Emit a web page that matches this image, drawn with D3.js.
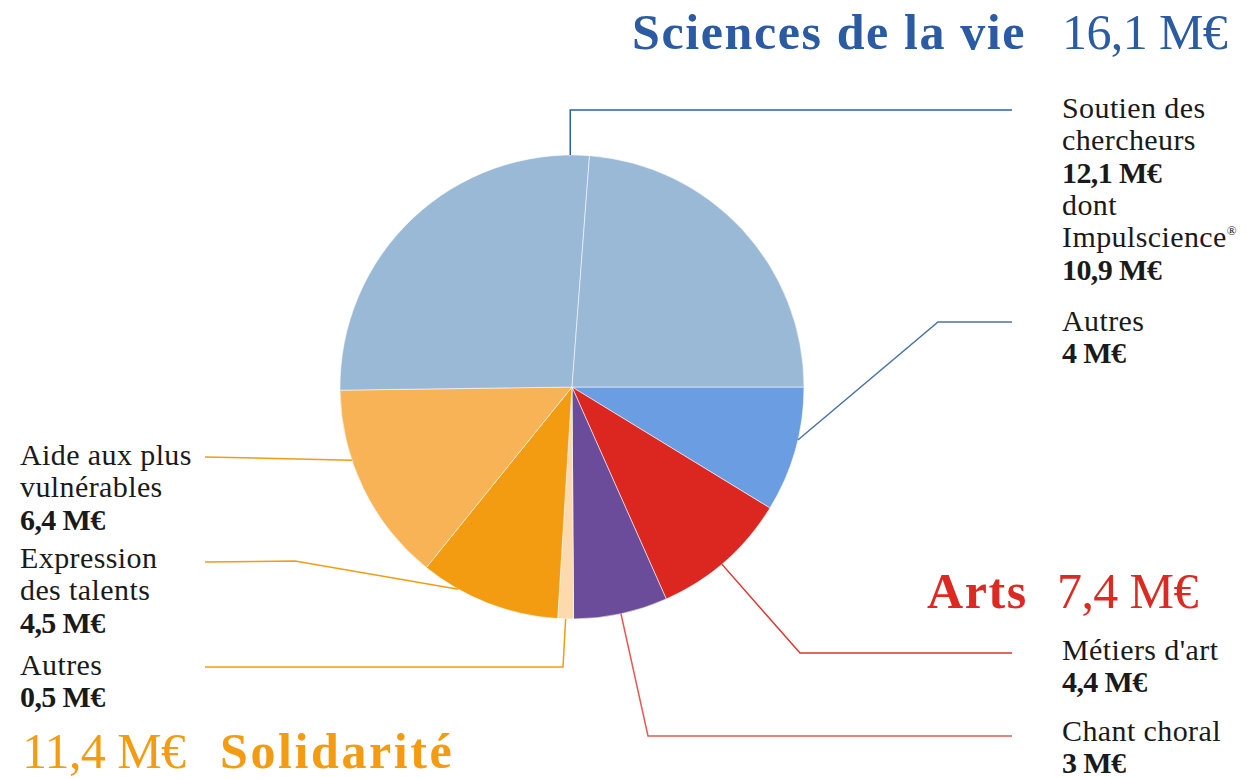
<!DOCTYPE html>
<html>
<head>
<meta charset="utf-8">
<script src="https://cdn.jsdelivr.net/npm/d3@7"></script>
<style>
  body { margin: 0; background: #fff; }
  svg { display: block; }
  text { font-family: "Liberation Serif", "DejaVu Serif", serif; }
</style>
</head>
<body>
<svg></svg>
<script>
// slices, clockwise from 3 o'clock
var slices = ["Autres (sciences)", "Métiers d'art", "Chant choral", "Autres (solidarité)",
              "Expression des talents", "Aide aux plus vulnérables", "Soutien des chercheurs", "dont Impulscience"];
var values = [4, 4.4, 3, 0.5, 4.5, 6.4, 12.1, 10.9];
var colors = ["#6a9de2", "#dc2620", "#6b4c9a", "#fdd9ae", "#f39c12", "#f7b356", "#9ab9d6", "#9ab9d6"];

// label text per slice (last slice shares the label of the one before)
var labelLines = [
  ["Autres", "4 M€"],
  ["Métiers d'art", "4,4 M€"],
  ["Chant choral", "3 M€"],
  ["Autres", "0,5 M€"],
  ["Expression", "des talents", "4,5 M€"],
  ["Aide aux plus", "vulnérables", "6,4 M€"],
  ["Soutien des", "chercheurs", "12,1 M€", "dont", "Impulscience®", "10,9 M€"],
  null
];
var lineColors = ["#4a73ad", "#e0352f", "#e35a55", "#f39c12", "#f39c12", "#f39c12", "#2d5fa9", null];

// group titles
var groups = ["Sciences de la vie", "Arts", "Solidarité"];
var groupTotals = ["16,1 M€", "7,4 M€", "11,4 M€"];
var groupColors = ["#2b5ba3", "#dc2a22", "#f39c12"];

var width = 1247, height = 779;
var cx = 572, cy = 387, radius = 232;

var svg = d3.select("svg").attr("width", width).attr("height", height);

var pie = d3.pie().sort(null).value(d => d)
    .startAngle(Math.PI / 2).endAngle(Math.PI / 2 + 2 * Math.PI);
var arcs = pie(values);
var arc = d3.arc().innerRadius(0).outerRadius(radius);

var g = svg.append("g").attr("transform", "translate(" + cx + "," + cy + ")");

g.selectAll("path")
  .data(arcs)
  .enter().append("path")
  .attr("d", arc)
  .attr("fill", (d, i) => colors[i])
  .attr("stroke", "rgba(255,255,255,0.55)")
  .attr("stroke-width", 1);

// leader lines: where on the slice they leave (fraction of the slice), elbow and end
var leaderAt = [0.42, 0.53, 0.5, 0.5, 0.73, 0.65, 0.95];
var elbows = [[938, 322], [800, 653], [648, 736], [563, 667], [295, 561], [205, 457], [null, 110]];
var ends = [[1012, 322], [1012, 653], [1012, 736], [205, 667], [205, 562], [205, 457], [1012, 110]];
var labelPos = [[1062, 331], [1062, 660], [1062, 741], [20, 675], [20, 568], [20, 465], [1062, 118]];

function edgePoint(d, f) {
  var a = d.startAngle + (d.endAngle - d.startAngle) * f;
  return [cx + radius * Math.sin(a), cy - radius * Math.cos(a)];
}

leaderAt.forEach(function(f, i) {
  var p = edgePoint(arcs[i], f);
  var e = elbows[i];
  var pts = [p, [e[0] == null ? p[0] : e[0], e[1]], ends[i]];
  svg.append("path")
    .attr("d", d3.line()(pts))
    .attr("fill", "none")
    .attr("stroke", lineColors[i])
    .attr("stroke-width", 1.5);
});

// slice labels
labelLines.forEach(function(lines, i) {
  if (!lines) return;
  var t = svg.append("text")
    .attr("font-size", 30)
    .attr("fill", "#1a1a1a");
  lines.forEach(function(s, j) {
    var bold = s.indexOf("M€") >= 0;
    var sp = t.append("tspan")
      .attr("x", labelPos[i][0])
      .attr("y", labelPos[i][1] + j * 32.3)
      .attr("font-weight", bold ? "bold" : "normal")
      .attr("letter-spacing", bold ? -0.6 : 0.4);
    if (s.slice(-1) === "®") {
      sp.text(s.slice(0, -1));
      t.append("tspan")
        .attr("y", labelPos[i][1] + j * 32.3 - 12)
        .attr("font-size", 13)
        .text("®");
    } else {
      sp.text(s);
    }
  });
});

// group titles
var titleRows = [
  { name: 0, nx: 632, tx: 1062, y: 49, ls: 1.6 },
  { name: 1, nx: 927, tx: 1057, y: 608, ls: 1.6 },
  { name: 2, nx: 220, tx: 22, y: 768, ls: 2.6 }
];
titleRows.forEach(function(r) {
  svg.append("text")
    .attr("x", r.nx).attr("y", r.y)
    .attr("font-size", 50).attr("font-weight", "bold")
    .attr("letter-spacing", r.ls)
    .attr("fill", groupColors[r.name])
    .text(groups[r.name]);
  svg.append("text")
    .attr("x", r.tx).attr("y", r.y)
    .attr("font-size", 50)
    .attr("letter-spacing", -0.6)
    .attr("fill", groupColors[r.name])
    .text(groupTotals[r.name]);
});
</script>
</body>
</html>
